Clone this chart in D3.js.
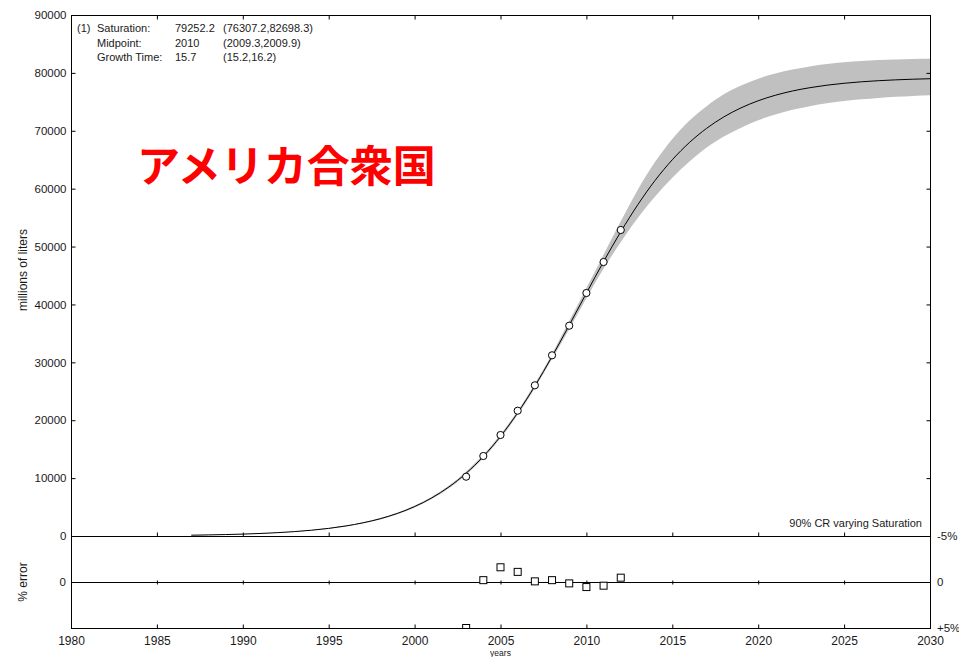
<!DOCTYPE html>
<html>
<head>
<meta charset="utf-8">
<script src="https://cdn.jsdelivr.net/npm/d3@7"></script>
<style>
  html, body { margin: 0; padding: 0; background: #fff; }
  svg { display: block; }
  text { font-family: "Liberation Sans", Arial, sans-serif; fill: #1a1a1a; }
</style>
</head>
<body>
<svg id="chart" width="959" height="657"></svg>
<script>
// ---- data ----
const curveYears = [1987,1988,1989,1990,1991,1992,1993,1994,1995,1996,1997,1998,1999,2000,2001,2002,2003,2004,2005,2006,2007,2008,2009,2010,2011,2012,2013,2014,2015,2016,2017,2018,2019,2020,2021,2022,2023,2024,2025,2026,2027,2028,2029,2030];
const curveFit = [142,188,249,329,435,574,758,999,1317,1733,2276,2984,3900,5080,6582,8479,10843,13740,17214,21282,25910,31006,36421,41955,47400,52555,57263,61432,64993,67981,70427,72396,73957,75185,76138,76876,77440,77876,78207,78460,78652,78797,78908,78992];
const bandHigh = [152,200,264,349,460,604,798,1049,1377,1808,2371,3104,4040,5250,6782,8709,11143,14060,17544,21632,26280,31456,37121,42855,48600,54355,59863,64632,68593,71781,74257,76296,77807,79005,79898,80586,81120,81516,81837,82050,82212,82317,82398,82442];
const bandLow = [132,176,234,309,410,544,718,949,1257,1658,2181,2864,3760,4910,6382,8249,10543,13420,16884,20932,25540,30556,35721,41055,46200,50755,54963,58632,61893,64681,67117,69016,70537,71815,72818,73626,74250,74736,75137,75440,75682,75857,76028,76142];

const dataYears = [2003,2004,2005,2006,2007,2008,2009,2010,2011,2012];
const dataValues = [10244,13819,17447,21644,26032,31214,36327,41976,47331,52859];
const errorValues = [5.0,-0.2,-1.6,-1.1,-0.07,-0.2,0.15,0.55,0.4,-0.47];

const xTicks = [1980,1985,1990,1995,2000,2005,2010,2015,2020,2025,2030];
const yTicks = [0,10000,20000,30000,40000,50000,60000,70000,80000,90000];
const errTicks = [-5,0,5];
const errRightLabels = ["-5%","0","+5%"];

const infoRows = [
  ["(1)", "Saturation:", "79252.2", "(76307.2,82698.3)"],
  ["", "Midpoint:", "2010", "(2009.3,2009.9)"],
  ["", "Growth Time:", "15.7", "(15.2,16.2)"]
];
const titleText = "アメリカ合衆国";
const bandLabel = "90% CR varying Saturation";

// ---- layout ----
const L = 71, R = 930, T = 15, MB = 536, EB = 628;
const svg = d3.select("#chart");

const x = d3.scaleLinear().domain([1980, 2030]).range([L, R]);
const y = d3.scaleLinear().domain([0, 90000]).range([MB, T]);
const ye = d3.scaleLinear().domain([-5, 5]).range([MB, EB]);

svg.append("clipPath").attr("id", "clipMain")
  .append("rect").attr("x", L).attr("y", T).attr("width", R - L).attr("height", MB - T);
svg.append("clipPath").attr("id", "clipErr")
  .append("rect").attr("x", L).attr("y", MB).attr("width", R - L).attr("height", EB - MB);

const curveRows = curveYears.map((yr, i) => ({yr, fit: curveFit[i], hi: bandHigh[i], lo: bandLow[i]}));

// band
svg.append("path")
  .datum(curveRows)
  .attr("clip-path", "url(#clipMain)")
  .attr("fill", "#c0c0c0")
  .attr("d", d3.area().x(d => x(d.yr)).y0(d => y(d.lo)).y1(d => y(d.hi)).curve(d3.curveMonotoneX));

// fit line
svg.append("path")
  .datum(curveRows)
  .attr("clip-path", "url(#clipMain)")
  .attr("fill", "none")
  .attr("stroke", "#000")
  .attr("stroke-width", 1)
  .attr("d", d3.line().x(d => x(d.yr)).y(d => y(d.fit)).curve(d3.curveMonotoneX));

// frame lines
const frame = svg.append("g").attr("stroke", "#000").attr("stroke-width", 1).attr("fill", "none");
frame.append("rect").attr("x", L + 0.5).attr("y", T + 0.5).attr("width", R - L).attr("height", EB - T);
frame.append("line").attr("x1", L).attr("x2", R).attr("y1", MB + 0.5).attr("y2", MB + 0.5);
frame.append("line").attr("x1", L).attr("x2", R).attr("y1", ye(0) + 0.5).attr("y2", ye(0) + 0.5);

// axes
const yLeft = svg.append("g").attr("transform", `translate(${L + 0.5},0)`)
  .call(d3.axisLeft(y).tickValues(yTicks).tickSize(-4).tickPadding(5).tickFormat(d3.format("d")));
const yRight = svg.append("g").attr("transform", `translate(${R + 0.5},0)`)
  .call(d3.axisRight(y).tickValues(yTicks).tickSize(-4).tickFormat(""));
const xBottom = svg.append("g").attr("transform", `translate(0,${EB + 0.5})`)
  .call(d3.axisBottom(x).tickValues(xTicks).tickSize(-4).tickPadding(8).tickFormat(d3.format("d")));
const xTop = svg.append("g").attr("transform", `translate(0,${T + 0.5})`)
  .call(d3.axisTop(x).tickValues(xTicks).tickSize(-4).tickFormat(""));
const xMid = svg.append("g").attr("transform", `translate(0,${MB + 0.5})`)
  .call(d3.axisBottom(x).tickValues(xTicks).tickSize(-4).tickFormat(""));
const xZero = svg.append("g").attr("transform", `translate(0,${ye(0) + 2.5})`)
  .call(d3.axisBottom(x).tickValues(xTicks).tickSize(-4).tickFormat(""));

[yLeft, yRight, xBottom, xTop, xMid, xZero].forEach(g => {
  g.select(".domain").remove();
  g.selectAll("line").attr("stroke", "#000");
  g.selectAll("text").attr("font-family", "Liberation Sans, Arial, sans-serif").attr("fill", "#1a1a1a");
});
yLeft.selectAll("text").attr("font-size", 11.5);
xBottom.selectAll("text").attr("font-size", 12);

// error panel labels
svg.append("text").attr("x", L - 5).attr("y", ye(0)).attr("dy", "0.35em")
  .attr("text-anchor", "end").attr("font-size", 11.5).text("0");
svg.selectAll(".errlab").data(errTicks).enter().append("text")
  .attr("class", "errlab")
  .attr("x", R + 7).attr("y", d => ye(d)).attr("dy", "0.35em")
  .attr("font-size", 11.5)
  .text((d, i) => errRightLabels[i]);

// data points
svg.append("g").selectAll("circle").data(dataYears).enter().append("circle")
  .attr("cx", d => x(d))
  .attr("cy", (d, i) => y(dataValues[i]))
  .attr("r", 3.6)
  .attr("fill", "#fff").attr("stroke", "#000").attr("stroke-width", 1);

// error squares
svg.append("g").attr("clip-path", "url(#clipErr)").selectAll("rect").data(dataYears).enter().append("rect")
  .attr("x", d => x(d) - 3.5)
  .attr("y", (d, i) => ye(errorValues[i]) - 3.5)
  .attr("width", 7).attr("height", 7)
  .attr("fill", "#fff").attr("stroke", "#000").attr("stroke-width", 1);

// axis titles
svg.append("text").attr("transform", `translate(27,270) rotate(-90)`)
  .attr("text-anchor", "middle").attr("font-size", 12).text("millions of liters");
svg.append("text").attr("transform", `translate(27,582) rotate(-90)`)
  .attr("text-anchor", "middle").attr("font-size", 12).text("% error");
svg.append("text").attr("x", (L + R) / 2).attr("y", 656)
  .attr("text-anchor", "middle").attr("font-size", 8.5).text("years");

// info block
const colX = [77, 97, 175, 223];
const rowY = [28, 43, 57];
infoRows.forEach((row, r) => {
  row.forEach((t, c) => {
    if (!t) return;
    svg.append("text").attr("x", colX[c]).attr("y", rowY[r]).attr("dy", "0.35em")
      .attr("font-size", 11).text(t);
  });
});

// band label
svg.append("text").attr("x", 922).attr("y", 523).attr("dy", "0.35em")
  .attr("text-anchor", "end").attr("font-size", 11).text(bandLabel);

// title
svg.append("text").attr("x", 137).attr("y", 182)
  .style("font-family", "'Noto Sans CJK JP', sans-serif")
  .style("fill", "#ff0000")
  .attr("font-weight", "bold").attr("font-size", 43).text(titleText);
</script>
</body>
</html>
